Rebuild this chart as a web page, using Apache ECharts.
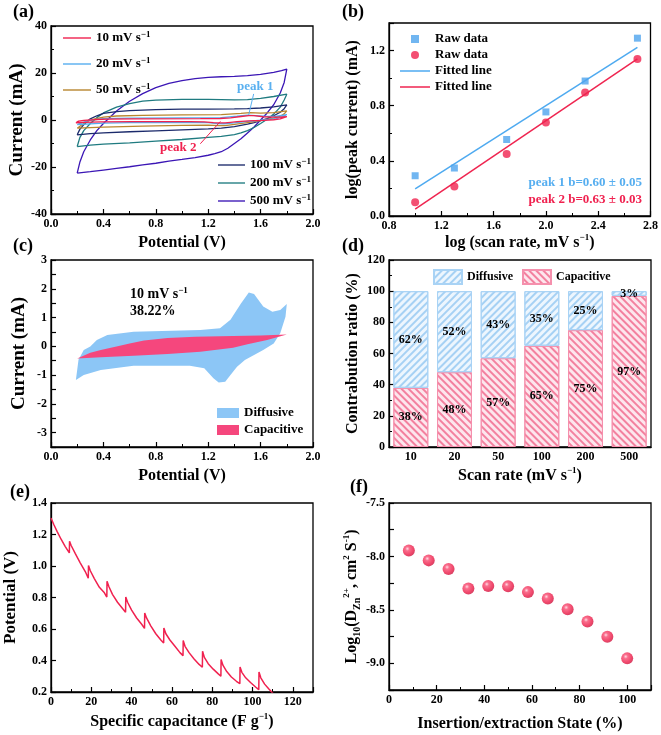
<!DOCTYPE html>
<html><head><meta charset="utf-8">
<script src="https://cdn.jsdelivr.net/npm/echarts/dist/echarts.min.js"></script>
<style>html,body{margin:0;padding:0;background:#fff}#c{width:661px;height:735px}</style>
</head><body><div id="c"></div>
<script>
// ---------- (a) CV curves [potential V, current mA] ----------
const cv10 = [[0.19,-1.17],[0.21,-0.47],[0.25,-0.13],[0.30,-0.01],[0.35,0.22],[0.43,0.39],[0.63,0.51],[1.14,0.57],[1.29,0.63],[1.37,0.92],[1.45,1.49],[1.51,1.87],[1.55,1.82],[1.62,1.38],[1.69,1.2],[1.75,1.26],[1.80,1.47],
  [1.79,1.03],[1.75,0.45],[1.70,0.1],[1.62,-0.13],[1.55,-0.3],[1.48,-0.48],[1.42,-0.71],[1.37,-1.0],[1.33,-1.23],[1.28,-1.26],[1.24,-1.11],[1.17,-0.76],[1.06,-0.68],[0.63,-0.68],[0.38,-0.82],[0.25,-1.0],[0.19,-1.17]];
const cv20 = [[0.20,-2],[0.25,-0.9],[0.30,-0.1],[0.40,0.6],[0.60,0.8],[1.00,0.9],[1.30,1.0],[1.42,1.6],[1.50,2.1],[1.56,1.9],[1.65,1.5],[1.72,1.6],[1.80,2.3],
  [1.78,1.5],[1.72,0.6],[1.60,-0.1],[1.50,-0.6],[1.40,-1.2],[1.32,-1.6],[1.27,-1.5],[1.20,-1.1],[1.00,-1.0],[0.60,-1.1],[0.40,-1.3],[0.20,-2]];
const cv50 = [[0.20,-3.5],[0.25,-1.5],[0.30,0],[0.40,1.2],[0.50,1.7],[0.70,2.0],[1.00,2.2],[1.30,2.3],[1.45,2.8],[1.52,3.1],[1.60,2.9],[1.70,3.1],[1.80,3.9],
  [1.78,2.6],[1.75,1.6],[1.70,0.8],[1.60,-0.3],[1.50,-1.1],[1.40,-1.9],[1.33,-2.4],[1.28,-2.4],[1.20,-2.2],[1.00,-2.3],[0.70,-2.6],[0.40,-3],[0.20,-3.5]];
const cv100 = [[0.20,-6.3],[0.22,-4],[0.25,-2],[0.30,0.5],[0.35,1.8],[0.40,2.8],[0.50,3.6],[0.60,4],[0.80,4.4],[1.00,4.6],[1.20,4.6],[1.40,4.7],[1.50,4.8],[1.60,5.1],[1.70,5.6],[1.80,6.4],
  [1.78,4.8],[1.75,3.3],[1.70,1.8],[1.65,0.6],[1.60,-0.3],[1.55,-1.1],[1.50,-1.8],[1.40,-2.8],[1.30,-3.5],[1.20,-3.8],[1.00,-4.2],[0.80,-4.6],[0.60,-5],[0.40,-5.5],[0.30,-5.8],[0.20,-6.3]];
const cv200 = [[0.20,-11.3],[0.22,-7.5],[0.25,-4.5],[0.30,-1.5],[0.35,1],[0.40,3],[0.50,5.5],[0.60,7],[0.70,8],[0.80,8.5],[1.00,8.8],[1.20,8.8],[1.40,8.6],[1.50,8.7],[1.60,9.2],[1.70,10],[1.80,11],
  [1.78,8.5],[1.75,5.5],[1.70,2.5],[1.65,0.3],[1.60,-1.5],[1.55,-3.2],[1.50,-4.5],[1.45,-5.5],[1.40,-6.2],[1.30,-7],[1.20,-7.4],[1.00,-8.3],[0.80,-9],[0.60,-9.7],[0.40,-10.3],[0.30,-10.7],[0.20,-11.3]];
const cv500 = [[0.20,-22.6],[0.22,-18],[0.25,-13.5],[0.30,-8.5],[0.35,-4.5],[0.40,-1.5],[0.45,1.2],[0.50,3.8],[0.60,8],[0.70,11.2],[0.80,13.8],[0.90,15.6],[1.00,16.8],[1.10,17.6],[1.20,18.1],[1.30,18.4],[1.40,18.6],[1.50,18.9],[1.60,19.4],[1.70,20.3],[1.76,21],[1.80,21.7],
  [1.78,16],[1.75,11.5],[1.70,6.5],[1.65,3],[1.60,0],[1.55,-3],[1.50,-5.5],[1.45,-8],[1.40,-10],[1.35,-12],[1.30,-13.5],[1.25,-14.3],[1.20,-15],[1.10,-16],[1.00,-16.8],[0.90,-17.5],[0.80,-18.4],[0.70,-19.1],[0.60,-19.9],[0.50,-20.6],[0.40,-21.3],[0.30,-22],[0.20,-22.6]];
const peak1Pointer = [[1.547,11.1],[1.509,2.2]];
const peak2Pointer = [[1.14,-10.1],[1.293,-0.6]];

// ---------- (b) log(peak current) vs log(scan rate) ----------
const logRate = [1.0, 1.3, 1.7, 2.0, 2.3, 2.7];
const peak1Log = [0.292, 0.348, 0.555, 0.755, 0.979, 1.29];
const peak2Log = [0.10, 0.214, 0.45, 0.679, 0.896, 1.139];
const fit1 = [[1.0,0.197],[2.7,1.224]];
const fit2 = [[1.0,0.049],[2.7,1.139]];

// ---------- (c) capacitive contribution at 10 mV/s ----------
const capacitive10 = [[0.20,-0.42],[0.30,-0.22],[0.38,-0.13],[0.50,-0.01],[0.60,0.1],[0.71,0.2],[0.89,0.29],[1.10,0.33],[1.39,0.36],[1.60,0.38],[1.80,0.41],
  [1.65,0.22],[1.50,0.07],[1.39,-0.05],[1.14,-0.19],[0.89,-0.27],[0.63,-0.33],[0.38,-0.38],[0.20,-0.42]];

// ---------- (d) contribution ratio ----------
const scanRates = ['10','20','50','100','200','500'];
const capRatio = [38, 48, 57, 65, 75, 97];
const diffRatio = [62, 52, 43, 35, 25, 3];

// ---------- (e) GITT ----------
const gitt = [[0,1.305],[1.5,1.26],[3,1.22],[5,1.17],[7,1.125],[9.1,1.083],
  [9.2,1.157],[10,1.13],[12,1.08],[14.5,1.02],[17,0.965],[18.5,0.922],
  [18.6,1.003],[19.5,0.97],[21.5,0.92],[24,0.865],[26.5,0.83],[27.7,0.803],
  [27.8,0.903],[28.7,0.87],[30.5,0.82],[33,0.77],[35.5,0.73],[37,0.706],
  [37.1,0.803],[38,0.77],[40,0.72],[42.5,0.67],[45,0.63],[46.4,0.604],
  [46.5,0.702],[47.4,0.67],[49.5,0.62],[52,0.57],[54.5,0.53],[55.9,0.511],
  [56,0.606],[57,0.57],[59,0.53],[61.5,0.49],[64,0.45],[65.5,0.431],
  [65.6,0.527],[66.5,0.49],[68.5,0.45],[71,0.41],[73.5,0.375],[75.1,0.357],
  [75.2,0.459],[76.1,0.42],[78,0.38],[80.5,0.345],[83,0.315],[84.3,0.30],
  [84.4,0.406],[85.3,0.37],[87.2,0.33],[89.5,0.295],[92,0.268],[93.7,0.253],
  [93.8,0.359],[94.7,0.325],[96.6,0.29],[99,0.26],[101.5,0.232],[103.1,0.215],
  [103.2,0.327],[104.1,0.29],[106,0.25],[108,0.22],[110.2,0.19]];

// ---------- (f) diffusion coefficient ----------
const insertState = [8.33, 16.67, 25, 33.33, 41.67, 50, 58.33, 66.67, 75, 83.33, 91.67, 100];
const logD = [-7.945, -8.037, -8.117, -8.30, -8.276, -8.279, -8.334, -8.393, -8.494, -8.61, -8.752, -8.954];

// ---------------------------------------------------------------
const F = "'Liberation Serif','Times New Roman',serif";
const C = {c10:'#f0214f', c20:'#56aef0', c50:'#b8862e', c100:'#1b2a6b', c200:'#1f7b80', c500:'#3b16b5'};
const supRich = {
  sup:{fontSize:9, fontWeight:'bold', fontFamily:F, verticalAlign:'top', lineHeight:9, color:'#000'},
  sub:{fontSize:10, fontWeight:'bold', fontFamily:F, verticalAlign:'bottom', lineHeight:10, color:'#000'}
};
function merge(a,b){
  const o = Array.isArray(a)?a.slice():Object.assign({},a);
  for(const k in b){
    if(b[k] && typeof b[k]==='object' && !Array.isArray(b[k]) && a && typeof a[k]==='object' && a[k] && !Array.isArray(a[k])) o[k]=merge(a[k],b[k]);
    else o[k]=b[k];
  }
  return o;
}
function axis(extra){
  return merge({
    type:'value',
    axisLine:{show:true,onZero:false,lineStyle:{color:'#000',width:1.3}},
    axisTick:{show:true,inside:true,length:5,lineStyle:{color:'#000',width:1.2}},
    minorTick:{show:false,length:3,lineStyle:{color:'#000',width:1}},
    splitLine:{show:false},
    axisLabel:{color:'#000',fontFamily:F,fontWeight:'bold',fontSize:12,margin:4},
    nameLocation:'middle',
    nameTextStyle:{color:'#000',fontFamily:F,fontWeight:'bold',fontSize:16,lineHeight:20,rich:supRich}
  }, extra);
}
const fx1 = v => v.toFixed(1);
const gridBase = {show:true, borderColor:'#000', borderWidth:1.3, backgroundColor:'transparent'};
const grids = [
  merge(gridBase,{left:51, top:26, width:262, height:188}),
  merge(gridBase,{left:389, top:23, width:263, height:193}),
  merge(gridBase,{left:51, top:260, width:262, height:187}),
  merge(gridBase,{left:389, top:260, width:262, height:187}),
  merge(gridBase,{left:50, top:503, width:263, height:189}),
  merge(gridBase,{left:389, top:503, width:262, height:190})
];
const xAxes = [
  axis({gridIndex:0,min:0,max:2,interval:0.4,name:'Potential (V)',nameGap:19,axisLabel:{formatter:fx1},minorTick:{show:true,splitNumber:2}}),
  axis({gridIndex:1,min:0.8,max:2.8,interval:0.4,name:'log (scan rate, mV s{sup|−1})',nameGap:17,axisLabel:{formatter:fx1},minorTick:{show:true,splitNumber:2}}),
  axis({gridIndex:2,min:0,max:2,interval:0.4,name:'Potential (V)',nameGap:19,axisLabel:{formatter:fx1},minorTick:{show:true,splitNumber:2}}),
  axis({gridIndex:3,type:'category',data:scanRates,name:'Scan rate (mV s{sup|−1})',nameGap:19,axisTick:{alignWithLabel:true}}),
  axis({gridIndex:4,min:0,max:130,interval:20,name:'Specific capacitance (F g{sup|−1})',nameGap:20,axisLabel:{showMaxLabel:false},minorTick:{show:true,splitNumber:2}}),
  axis({gridIndex:5,min:0,max:110,interval:20,name:'Insertion/extraction State (%)',nameGap:24,axisLabel:{showMaxLabel:false},minorTick:{show:true,splitNumber:2}})
];
const yAxes = [
  axis({gridIndex:0,min:-40,max:40,interval:20,name:'Current (mA)',nameGap:22,nameTextStyle:{fontSize:19},minorTick:{show:true,splitNumber:2}}),
  axis({gridIndex:1,min:0,max:1.4,interval:0.4,name:'log(peak current) (mA)',nameGap:26,axisLabel:{formatter:fx1,showMaxLabel:false},minorTick:{show:true,splitNumber:2}}),
  axis({gridIndex:2,min:-3.5,max:3,interval:0.5,name:'Current (mA)',nameGap:22,nameTextStyle:{fontSize:19},axisLabel:{formatter:v=>Number.isInteger(v)?String(v):''}}),
  axis({gridIndex:3,min:0,max:120,interval:20,name:'Contrabution ratio (%)',nameGap:24,minorTick:{show:true,splitNumber:2}}),
  axis({gridIndex:4,min:0.2,max:1.4,interval:0.2,name:'Potential (V)',nameGap:30,nameTextStyle:{fontSize:17},axisLabel:{formatter:fx1}}),
  axis({gridIndex:5,min:-9.25,max:-7.5,interval:0.25,name:'Log{sub|10}(D{sub|Zn}{sup|2+}, cm{sup|2} S{sup|-1})',nameGap:24,
    axisLabel:{formatter:v=>Math.abs(v*2-Math.round(v*2))<1e-6?v.toFixed(1):''}})
];

function cvSeries(name,data,color){
  return {type:'line',name:name,xAxisIndex:0,yAxisIndex:0,data:data,symbol:'none',lineStyle:{width:1.3,color:color},itemStyle:{color:color},z:3};
}
function polyRender(pts){
  return function(params, api){
    if(params.dataIndex!==0) return null;
    return {type:'polygon', shape:{points: pts.map(p=>api.coord(p))}, style:{fill: api.visual('color')}};
  };
}
const squarePath = 'path://M0,0h10v10h-10z';
const lineIconA = 'path://M0,0h28v1.4h-28z';
const lineIconB = 'path://M0,0h30v1.5h-30z';
const ballColor = {type:'radial',x:0.38,y:0.35,r:0.7,colorStops:[{offset:0,color:'#ffd3de'},{offset:0.25,color:'#f84a70'},{offset:0.7,color:'#ec1a47'},{offset:1,color:'#c8103a'}]};

const series = [
  cvSeries('500',cv500,C.c500),
  cvSeries('200',cv200,C.c200),
  cvSeries('100',cv100,C.c100),
  cvSeries('50',cv50,C.c50),
  cvSeries('20',cv20,C.c20),
  cvSeries('10',cv10,C.c10),
  {type:'line',xAxisIndex:0,yAxisIndex:0,data:peak1Pointer,symbol:'none',lineStyle:{width:1,color:'#5ab0f0'},silent:true,z:4},
  {type:'line',xAxisIndex:0,yAxisIndex:0,data:peak2Pointer,symbol:'none',lineStyle:{width:1,color:C.c10},silent:true,z:4},
  // (b)
  {type:'line',name:'Fitted line',xAxisIndex:1,yAxisIndex:1,data:fit1,symbol:'none',lineStyle:{width:1.5,color:'#4eaaf0'},itemStyle:{color:'#4eaaf0'}},
  {type:'line',name:'Fitted line ',xAxisIndex:1,yAxisIndex:1,data:fit2,symbol:'none',lineStyle:{width:1.5,color:'#ef2550'},itemStyle:{color:'#ef2550'}},
  {type:'scatter',name:'Raw data',xAxisIndex:1,yAxisIndex:1,data:logRate.map((x,i)=>[x,peak1Log[i]]),symbol:'rect',symbolSize:7,itemStyle:{color:'#4ea4ee'},z:5},
  {type:'scatter',name:'Raw data ',xAxisIndex:1,yAxisIndex:1,data:logRate.map((x,i)=>[x,peak2Log[i]]),symbol:'circle',symbolSize:8,itemStyle:{color:'#f0234f'},z:5},
  // (c)
  {type:'custom',name:'Diffusive',xAxisIndex:2,yAxisIndex:2,data:cv10,encode:{x:0,y:1},renderItem:polyRender(cv10),itemStyle:{color:'#8cc6f6'},z:2},
  {type:'custom',name:'Capacitive',xAxisIndex:2,yAxisIndex:2,data:capacitive10,encode:{x:0,y:1},renderItem:polyRender(capacitive10),itemStyle:{color:'#f5477d'},z:3},
  // (d)
  {type:'bar',name:'Capacitive ',xAxisIndex:3,yAxisIndex:3,stack:'r',data:capRatio,barWidth:'80%',
    itemStyle:{color:'#fde6ed',borderColor:'#f590ad',borderWidth:1,decal:{symbol:'rect',symbolSize:1,dashArrayX:[1,0],dashArrayY:[1.3,2.4],rotation:Math.PI/4,color:'#f3819f'}},
    label:{show:true,position:'inside',formatter:p=>p.value+'%',color:'#000',fontFamily:F,fontWeight:'bold',fontSize:12}},
  {type:'bar',name:'Diffusive ',xAxisIndex:3,yAxisIndex:3,stack:'r',data:diffRatio,barWidth:'80%',
    itemStyle:{color:'#edf6fe',borderColor:'#a9d3f5',borderWidth:1,decal:{symbol:'rect',symbolSize:1,dashArrayX:[1,0],dashArrayY:[1.3,2.4],rotation:-Math.PI/4,color:'#a6d1f4'}},
    label:{show:true,position:'inside',formatter:p=>p.value+'%',color:'#000',fontFamily:F,fontWeight:'bold',fontSize:12}},
  // (e)
  {type:'line',xAxisIndex:4,yAxisIndex:4,data:gitt,symbol:'none',clip:true,lineStyle:{width:1.5,color:'#f0214f'}},
  // (f)
  {type:'scatter',xAxisIndex:5,yAxisIndex:5,data:insertState.map((x,i)=>[x,logD[i]]),symbol:'circle',symbolSize:12,itemStyle:{color:ballColor}}
];

const legText = {color:'#000',fontFamily:F,fontWeight:'bold',fontSize:13,lineHeight:16,rich:supRich};
const cvFmt = n => n + ' mV s{sup|−1}';
const lineItems = names => names.map(n => ({name:n, icon:lineIconA}));
const legends = [
  {orient:'vertical',left:58,top:25,itemWidth:28,itemHeight:12,itemGap:10,itemTextGap:6,data:lineItems(['10','20','50']),formatter:cvFmt,textStyle:legText,selectedMode:false},
  {orient:'vertical',left:213,top:152,itemWidth:27,itemHeight:12,itemGap:2,itemTextGap:4,data:lineItems(['100','200','500']),formatter:cvFmt,textStyle:legText,selectedMode:false},
  {orient:'vertical',left:395,top:26,itemWidth:30,itemHeight:8,itemGap:0,itemTextGap:3,
    data:[{name:'Raw data',icon:squarePath},{name:'Raw data ',icon:'circle'},{name:'Fitted line',icon:lineIconB},{name:'Fitted line ',icon:lineIconB}],textStyle:legText,selectedMode:false},
  {orient:'vertical',left:212,top:400,itemWidth:22,itemHeight:10,itemGap:1,itemTextGap:13,
    data:[{name:'Diffusive',icon:'rect'},{name:'Capacitive',icon:'rect'}],textStyle:legText,selectedMode:false},
  {orient:'horizontal',left:428,top:264,itemWidth:28,itemHeight:14,itemGap:6,itemTextGap:6,
    data:[{name:'Diffusive ',icon:'rect'},{name:'Capacitive ',icon:'rect'}],textStyle:merge(legText,{fontSize:12}),selectedMode:false}
];

function lbl(t,l,tp){return {type:'text',left:l,top:tp,style:{text:t,fontSize:18,fontWeight:'bold',fontFamily:F,fill:'#000'}};}
function ann(t,pos,color,size){return Object.assign({type:'text',style:{text:t,fontSize:size||13,fontWeight:'bold',fontFamily:F,fill:color,rich:{sup:{fontSize:9,fontWeight:'bold',fontFamily:F,verticalAlign:'top',lineHeight:9,fill:color}},lineHeight:16}},pos);}
const graphic = [
  lbl('(a)',13,3), lbl('(b)',342,3), lbl('(c)',13,237), lbl('(d)',342,237), lbl('(e)',10,483), lbl('(f)',350,478),
  ann('peak 1',{left:237,top:79},'#5ab0f0'),
  ann('peak 2',{left:160,top:140},C.c10),
  ann('peak 1 b=0.60 ± 0.05',{right:19,top:175},'#56aef0'),
  ann('peak 2 b=0.63 ± 0.03',{right:19,top:192},'#f0214f'),
  ann('10 mV s{sup|−1}',{left:130,top:286},'#000',14),
  ann('38.22%',{left:130,top:303},'#000',14)
];

const chart = echarts.init(document.getElementById('c'), null, {renderer:'canvas'});
chart.setOption({
  animation:false,
  backgroundColor:'#fff',
  grid:grids, xAxis:xAxes, yAxis:yAxes, series:series, legend:legends, graphic:graphic
});
</script></body></html>
